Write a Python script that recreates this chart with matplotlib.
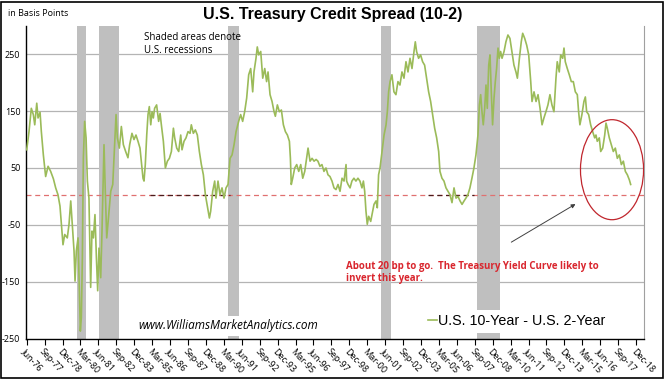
import numpy as np
import matplotlib
matplotlib.use("Agg")
import matplotlib.pyplot as plt
from matplotlib.patches import Ellipse, Rectangle

# valori: anno decimale, spread 10Y-2Y in basis points
anni = [
    1976.42, 1976.58, 1976.74, 1976.88, 1976.98, 1977.12, 1977.21, 1977.35, 1977.44, 1977.58,
    1977.74, 1977.91, 1978.09, 1978.28, 1978.44, 1978.60, 1978.74, 1978.84, 1978.95, 1979.07,
    1979.25, 1979.37, 1979.49, 1979.60, 1979.72, 1979.79, 1979.88, 1980.00, 1980.09, 1980.16,
    1980.23, 1980.30, 1980.37, 1980.46, 1980.56, 1980.65, 1980.76, 1980.88, 1980.97, 1981.07,
    1981.18, 1981.28, 1981.37, 1981.46, 1981.58, 1981.67, 1981.81, 1981.90, 1982.00, 1982.14,
    1982.28, 1982.42, 1982.51, 1982.65, 1982.74, 1982.88, 1983.02, 1983.16, 1983.32, 1983.48,
    1983.60, 1983.76, 1983.90, 1984.04, 1984.18, 1984.32, 1984.41, 1984.53, 1984.60, 1984.69,
    1984.79, 1984.88, 1984.97, 1985.07, 1985.16, 1985.25, 1985.34, 1985.48, 1985.62, 1985.72,
    1985.81, 1985.95, 1986.09, 1986.23, 1986.37, 1986.51, 1986.65, 1986.74, 1986.88, 1987.02,
    1987.16, 1987.25, 1987.39, 1987.53, 1987.67, 1987.81, 1987.90, 1988.04, 1988.18, 1988.32,
    1988.46, 1988.60, 1988.74, 1988.88, 1989.02, 1989.16, 1989.25, 1989.39, 1989.53, 1989.62,
    1989.76, 1989.90, 1990.04, 1990.18, 1990.32, 1990.46, 1990.60, 1990.74, 1990.88, 1991.02,
    1991.20, 1991.34, 1991.48, 1991.62, 1991.76, 1991.90, 1992.04, 1992.18, 1992.27, 1992.41,
    1992.50, 1992.60, 1992.74, 1992.88, 1993.02, 1993.15, 1993.25, 1993.39, 1993.53, 1993.67,
    1993.76, 1993.90, 1994.04, 1994.18, 1994.32, 1994.46, 1994.60, 1994.74, 1994.81, 1994.87,
    1994.97, 1995.11, 1995.25, 1995.39, 1995.53, 1995.67, 1995.81, 1995.94, 1996.04, 1996.18,
    1996.32, 1996.46, 1996.60, 1996.73, 1996.87, 1997.01, 1997.15, 1997.29, 1997.43, 1997.57,
    1997.71, 1997.85, 1997.99, 1998.13, 1998.27, 1998.41, 1998.55, 1998.69, 1998.73, 1998.83,
    1998.97, 1999.10, 1999.24, 1999.38, 1999.52, 1999.66, 1999.80, 1999.90, 1999.99, 2000.08,
    2000.17, 2000.27, 2000.41, 2000.50, 2000.64, 2000.78, 2000.87, 2000.96, 2001.06, 2001.20,
    2001.34, 2001.48, 2001.57, 2001.66, 2001.76, 2001.89, 2002.03, 2002.17, 2002.31, 2002.45,
    2002.59, 2002.73, 2002.87, 2003.01, 2003.15, 2003.29, 2003.43, 2003.52, 2003.61, 2003.75,
    2003.89, 2004.03, 2004.17, 2004.31, 2004.45, 2004.59, 2004.73, 2004.87, 2005.01, 2005.15,
    2005.24, 2005.38, 2005.52, 2005.66, 2005.80, 2005.94, 2006.08, 2006.22, 2006.36, 2006.50,
    2006.64, 2006.78, 2006.92, 2007.05, 2007.19, 2007.33, 2007.47, 2007.61, 2007.75, 2007.89,
    2007.99, 2008.08, 2008.17, 2008.26, 2008.36, 2008.45, 2008.54, 2008.64, 2008.73, 2008.82,
    2008.91, 2009.01, 2009.10, 2009.19, 2009.29, 2009.38, 2009.47, 2009.57, 2009.71, 2009.84,
    2009.98, 2010.12, 2010.26, 2010.40, 2010.54, 2010.64, 2010.78, 2010.91, 2011.01, 2011.15,
    2011.29, 2011.43, 2011.57, 2011.66, 2011.80, 2011.94, 2012.08, 2012.22, 2012.36, 2012.49,
    2012.63, 2012.77, 2012.91, 2013.05, 2013.19, 2013.33, 2013.42, 2013.56, 2013.66, 2013.80,
    2013.89, 2013.98, 2014.12, 2014.26, 2014.40, 2014.54, 2014.68, 2014.82, 2014.91, 2015.00,
    2015.14, 2015.28, 2015.38, 2015.47, 2015.61, 2015.75, 2015.89, 2016.03, 2016.12, 2016.21,
    2016.35, 2016.45, 2016.59, 2016.73, 2016.82, 2016.91, 2017.05, 2017.19, 2017.33, 2017.47,
    2017.61, 2017.75, 2017.89, 2018.03, 2018.17, 2018.31, 2018.45, 2018.54,
]
spread = [
    82, 114, 155, 144, 126, 164, 138, 148, 114, 73,
    35, 53, 44, 31, 15, 3, -17, -49, -85, -67,
    -73, -49, -8, -49, -96, -149, -96, -73, -166, -237,
    -213, -108, 68, 132, 103, 27, -3, -160, -61, -73,
    -32, -108, -166, -91, -143, -61, 91, 9, -73, -32,
    9, 21, 68, 144, 103, 85, 123, 91, 79, 68,
    91, 111, 100, 108, 97, 85, 62, 32, 27, 56,
    108, 144, 158, 126, 149, 138, 155, 161, 132, 146,
    126, 97, 50, 62, 67, 79, 120, 103, 85, 79,
    108, 82, 97, 103, 114, 111, 126, 111, 117, 108,
    79, 56, 38, 3, -17, -38, -26, 9, 27, -3,
    27, 3, 15, -3, 15, 21, 67, 73, 91, 114,
    132, 144, 132, 149, 173, 214, 225, 184, 219, 243,
    263, 249, 255, 208, 225, 202, 219, 179, 167, 149,
    141, 161, 149, 152, 126, 114, 108, 97, 67, 21,
    32, 50, 56, 44, 56, 32, 44, 67, 85, 62,
    67, 62, 65, 62, 53, 56, 44, 50, 38, 35,
    27, 15, 12, 21, 9, 32, 27, 56, 27, 21,
    15, 27, 32, 27, 32, 27, 15, 27, 9, -26,
    -49, -35, -44, -32, -14, -8, -20, 38, 50, 79,
    108, 126, 149, 184, 202, 214, 184, 179, 202, 196,
    219, 208, 237, 219, 243, 225, 255, 272, 255, 243,
    249, 237, 231, 208, 184, 167, 144, 120, 103, 79,
    44, 32, 27, 15, 9, 3, -11, 15, -3, 0,
    -8, -14, -8, -3, 3, 15, 32, 50, 73, 108,
    161, 179, 149, 126, 155, 196, 155, 231, 249, 184,
    126, 173, 202, 225, 261, 243, 255, 243, 255, 272,
    284, 278, 255, 231, 219, 208, 243, 272, 287, 278,
    266, 249, 202, 167, 184, 167, 179, 155, 126, 138,
    149, 161, 179, 161, 149, 208, 237, 219, 249, 243,
    261, 237, 225, 214, 202, 202, 184, 179, 149, 126,
    144, 167, 175, 149, 144, 126, 114, 103, 108, 97,
    103, 79, 85, 108, 129, 120, 103, 91, 79, 85,
    67, 73, 56, 62, 44, 38, 29, 21,
]

# recessioni USA (inizio, fine) in anni decimali
recessioni = [(1979.93, 1980.56), (1981.46, 1982.85), (1990.46, 1991.22),
              (2001.13, 2001.83), (2007.83, 2009.43)]

etichette_x = ["Jun-76", "Sep-77", "Dec-78", "Mar-80", "Jun-81", "Sep-82", "Dec-83",
               "Mar-85", "Jun-86", "Sep-87", "Dec-88", "Mar-90", "Jun-91", "Sep-92",
               "Dec-93", "Mar-95", "Jun-96", "Sep-97", "Dec-98", "Mar-00", "Jun-01",
               "Sep-02", "Dec-03", "Mar-05", "Jun-06", "Sep-07", "Dec-08", "Mar-10",
               "Jun-11", "Sep-12", "Dec-13", "Mar-15", "Jun-16", "Sep-17", "Dec-18"]
pos_x = 1976.42 + 1.25 * np.arange(len(etichette_x))
tick_y = [250, 150, 50, -50, -150, -250]

verde = "#9bbb59"
rosso = "#d9262e"

fig = plt.figure(figsize=(6.66, 3.82), dpi=100)
ax = fig.add_axes([26 / 666, 1 - 338.5 / 382, 618 / 666, 312.6 / 382])

# griglia + barre recessioni
for v in tick_y[:-1]:
    ax.axhline(v, color="#b4b4b4", lw=0.9, zorder=0.5)
for a, b in recessioni:
    ax.axvspan(a, b, color="#bfbfbf", lw=0, zorder=1)

ax.plot(anni, spread, color=verde, lw=1.2, zorder=3, label="U.S. 10-Year - U.S. 2-Year")

# linea tratteggiata a zero (rossa con pezzi scuri)
ax.axhline(3, color="#e07070", lw=0.9, ls=(0, (4, 3)), zorder=2)
ax.plot([1985.0, 1990.6], [3, 3], color="#4a1c1c", lw=0.9, ls=(0, (4, 3)), zorder=2.1)
ax.plot([2004.4, 2007.6], [3, 3], color="#4a1c1c", lw=0.9, ls=(0, (4, 3)), zorder=2.1)

ax.set_xlim(1976.37, 2019.47)
ax.set_ylim(-250, 300)
ax.set_yticks(tick_y)
ax.set_yticklabels([str(v) for v in tick_y], fontsize=6.5, family="Open Sans")
ax.tick_params(axis="y", length=0, pad=4)
ax.set_xticks(pos_x)
ax.set_xticklabels(etichette_x, fontsize=6.5, family="Open Sans", rotation=-47,
                   ha="left", va="top", rotation_mode="anchor")
ax.tick_params(axis="x", length=4, width=0.8, direction="out", pad=2)
ax.spines["top"].set_visible(False)
ax.spines["right"].set_color("#a0a0a0")
ax.spines["right"].set_linewidth(0.8)
ax.spines["left"].set_linewidth(1.0)
ax.spines["bottom"].set_linewidth(1.0)

# ellisse e freccia
ax.add_patch(Ellipse((2017.24, 47), 4.4, 176, fill=False, ec="#c0262d", lw=0.9, zorder=4))
ax.annotate("", xy=(2014.86, -11), xytext=(2010.05, -83),
            arrowprops=dict(arrowstyle="-|>", color="#404040", lw=0.7,
                            mutation_scale=6), zorder=4)

ax.text(1998.69, -134, "About 20 bp to go.  The Treasury Yield Curve likely to\ninvert this year.",
        color=rosso, fontsize=7, fontweight="bold", family="Open Sans",
        ha="left", va="center", linespacing=1.15, zorder=5)

ax.text(1984.6, 290, "Shaded areas denote\nU.S. recessions", fontsize=7,
        family="Open Sans", ha="left", va="top", linespacing=1.3, zorder=5)

ax.text(1984.22, -228, "www.WilliamsMarketAnalytics.com", fontsize=8.5,
        style="italic", family="Open Sans", ha="left", va="center", zorder=5,
        bbox=dict(facecolor="white", edgecolor="none", pad=2.5))

leg = ax.legend(loc="center left", bbox_to_anchor=(0.632, 0.055), frameon=True,
                handlelength=0.6, handletextpad=0.1, borderpad=0.3,
                prop={"family": "Liberation Sans", "size": 10.3})
leg.get_frame().set_facecolor("white")
leg.get_frame().set_edgecolor("none")
leg.get_frame().set_alpha(1)
leg.set_zorder(5)

fig.text(333 / 666, 1 - 14 / 382, "U.S. Treasury Credit Spread (10-2)", fontsize=11.5,
         fontweight="bold", family="Liberation Sans", ha="center", va="center")
fig.text(8 / 666, 1 - 14 / 382, "in Basis Points", fontsize=6.5, family="Open Sans",
         ha="left", va="center")

# cornice esterna
fig.patches.append(Rectangle((0.002, 0.01), 0.993, 0.986, transform=fig.transFigure,
                             fill=False, ec="black", lw=1.2))

fig.savefig("out.png", dpi=100)
